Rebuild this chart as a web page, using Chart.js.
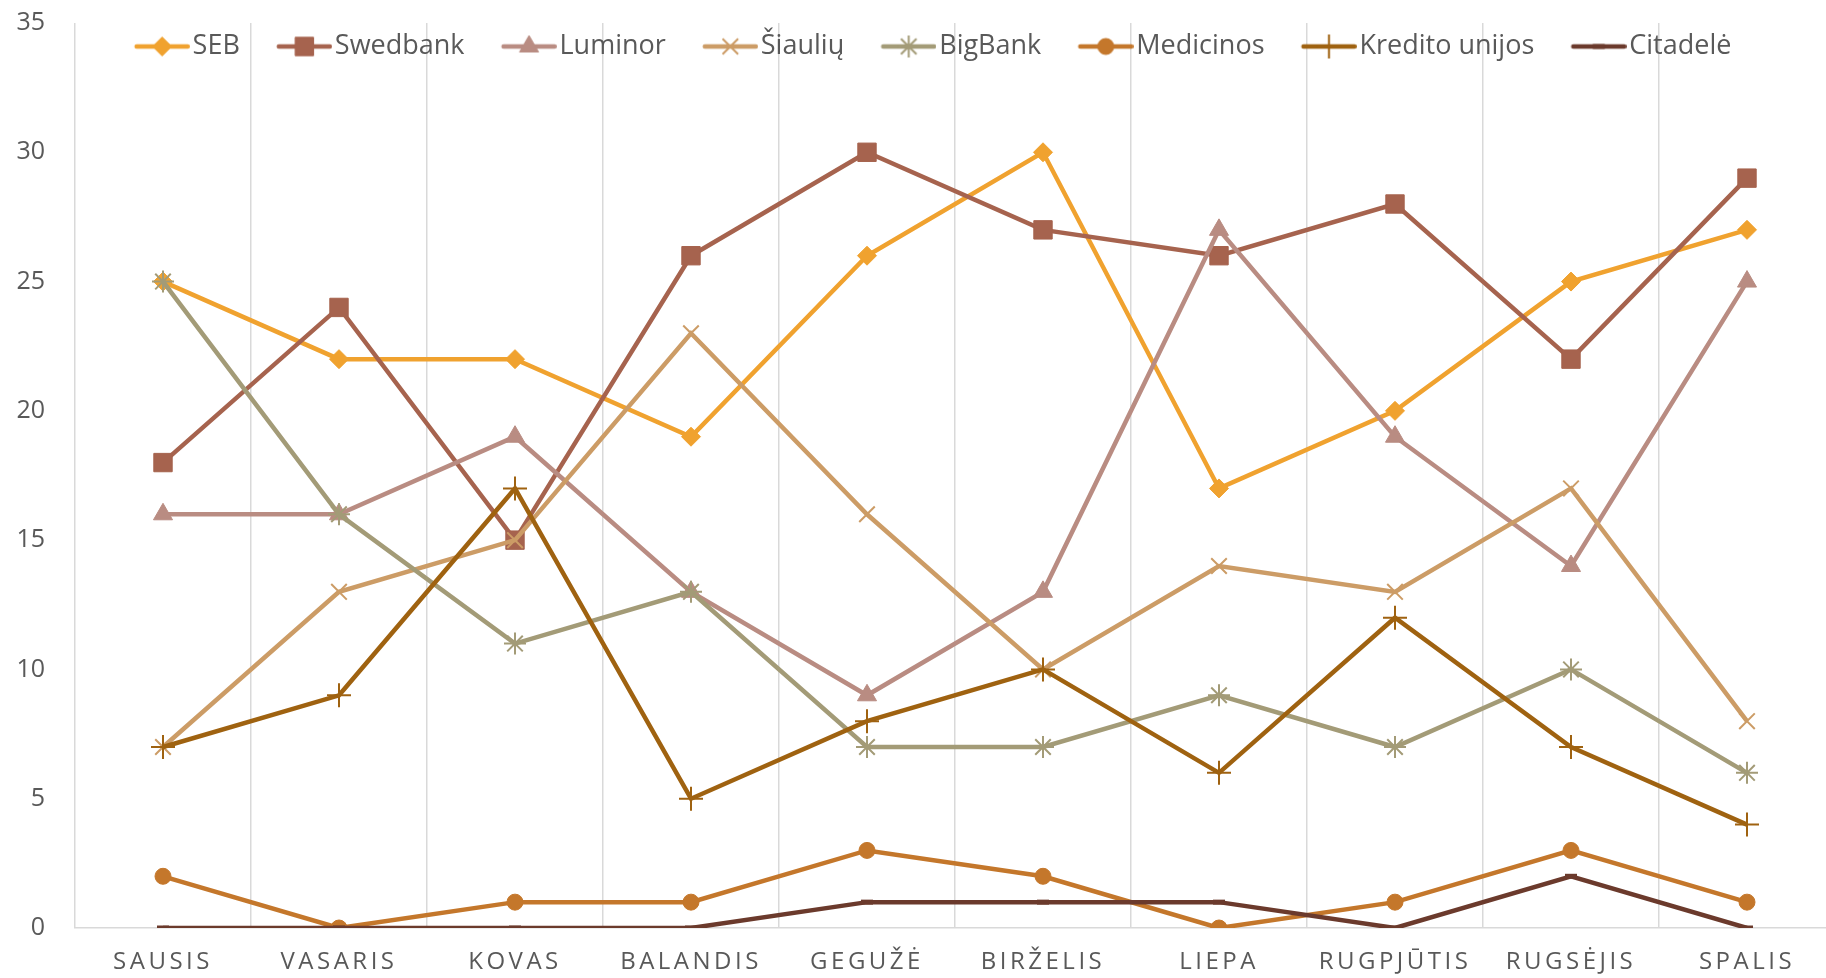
<!DOCTYPE html>
<html>
<head>
<meta charset="utf-8">
<script src="https://cdn.jsdelivr.net/npm/chart.js@4.4.1/dist/chart.umd.min.js"></script>
<style>
    html, body { margin: 0; padding: 0; background: #fff; overflow: hidden; }
    #wrap { width: 1840px; height: 978px; }
</style>
</head>
<body>
<div id="wrap"><canvas id="chart" width="1840" height="978"></canvas></div>
<script>
// Data
const months = ['SAUSIS', 'VASARIS', 'KOVAS', 'BALANDIS', 'GEGUŽĖ', 'BIRŽELIS', 'LIEPA', 'RUGPJŪTIS', 'RUGSĖJIS', 'SPALIS'];
const seb       = [25, 22, 22, 19, 26, 30, 17, 20, 25, 27];
const swedbank  = [18, 24, 15, 26, 30, 27, 26, 28, 22, 29];
const luminor   = [16, 16, 19, 13, 9, 13, 27, 19, 14, 25];
const siauliu   = [7, 13, 15, 23, 16, 10, 14, 13, 17, 8];
const bigbank   = [25, 16, 11, 13, 7, 7, 9, 7, 10, 6];
const medicinos = [2, 0, 1, 1, 3, 2, 0, 1, 3, 1];
const kredito   = [7, 9, 17, 5, 8, 10, 6, 12, 7, 4];
const citadele  = [0, 0, 0, 0, 1, 1, 1, 0, 2, 0];

const seriesNames = ['SEB', 'Swedbank', 'Luminor', 'Šiaulių', 'BigBank', 'Medicinos', 'Kredito unijos', 'Citadelė'];
const seriesData = [seb, swedbank, luminor, siauliu, bigbank, medicinos, kredito, citadele];

const yMin = 0;
const yMax = 35;
const yStep = 5;

// Styles
const styles = [
    { color: '#F0A22F', point: 'rectRot',  radius: 9.5, border: 1 },
    { color: '#A6634E', point: 'rect',     radius: 13,  border: 1 },
    { color: '#B98C82', point: 'triangle', radius: 11,  border: 1 },
    { color: '#CC9C66', point: 'crossRot', radius: 11,  border: 2 },
    { color: '#A39B77', point: 'star',     radius: 11,  border: 2 },
    { color: '#C4772B', point: 'circle',   radius: 8,   border: 1 },
    { color: '#9F6210', point: 'cross',    radius: 12,  border: 2 },
    { color: '#6B3A2C', point: 'line',     radius: 6,   border: 5 }
];

const textColor = '#595959';
const gridColor = '#D9D9D9';

// Legend icon: line with marker in the middle
function makeIcon(st) {
    const c = document.createElement('canvas');
    c.width = 66;
    c.height = 30;
    const g = c.getContext('2d');
    g.strokeStyle = st.color;
    g.fillStyle = st.color;
    g.lineWidth = 4.5;
    g.lineCap = 'round';
    g.beginPath();
    g.moveTo(12.75, 15);
    g.lineTo(63.75, 15);
    g.stroke();
    g.lineWidth = st.border;
    g.lineCap = 'butt';
    Chart.helpers.drawPoint(g, { pointStyle: st.point, radius: st.radius, rotation: 0, borderWidth: st.border }, 38.25, 15);
    return c;
}
const legendIcons = styles.map(makeIcon);

// Legend drawn over the plot area (as in the original)
const legendOverlay = {
    id: 'legendOverlay',
    beforeLayout(chart) {
        const lg = chart.legend;
        if (!lg || lg._overlay) return;
        const fit = lg.fit;
        lg.fit = function () {
            fit.call(this);
            this._fullHeight = this.height;
            this.height = 23;
        };
        lg._overlay = true;
    },
    afterLayout(chart) {
        const lg = chart.legend;
        if (lg && lg._fullHeight) {
            lg.left = 31;
            lg.top = -4;
            lg.height = lg._fullHeight;
            lg.bottom = lg.top + lg._fullHeight;
        }
        // spaced-out month labels
        const xs = chart.scales.x;
        if (xs && !xs._spaced) {
            const draw = xs.drawLabels;
            xs.drawLabels = function (area) {
                this.ctx.save();
                this.ctx.letterSpacing = '3.5px';
                draw.call(this, area);
                this.ctx.restore();
            };
            xs._spaced = true;
        }
    }
};

const datasets = seriesData.map((data, i) => ({
    label: seriesNames[i],
    data: data,
    borderColor: styles[i].color,
    backgroundColor: styles[i].color,
    borderWidth: 4.5,
    tension: 0,
    pointStyle: styles[i].point,
    pointRadius: styles[i].radius,
    pointHoverRadius: styles[i].radius,
    pointBackgroundColor: styles[i].color,
    pointBorderColor: styles[i].color,
    pointBorderWidth: styles[i].border,
    order: seriesData.length - i
}));

const ctx = document.getElementById('chart').getContext('2d');
new Chart(ctx, {
    type: 'line',
    data: { labels: months, datasets: datasets },
    plugins: [legendOverlay],
    options: {
        responsive: false,
        animation: false,
        devicePixelRatio: 1,
        layout: { autoPadding: false, padding: { left: 0, right: 5, top: 0, bottom: 0 } },
        plugins: {
            legend: {
                position: 'top',
                labels: {
                    usePointStyle: true,
                    pointStyleWidth: 44.5,
                    padding: 37,
                    color: textColor,
                    font: { family: 'Open Sans', size: 27 },
                    sort: (a, b) => a.datasetIndex - b.datasetIndex,
                    generateLabels: function (chart) {
                        const items = Chart.defaults.plugins.legend.labels.generateLabels(chart);
                        return items.map(item => Object.assign(item, { pointStyle: legendIcons[item.datasetIndex] }));
                    }
                }
            },
            tooltip: { enabled: false }
        },
        scales: {
            x: {
                offset: true,
                grid: { offset: true, color: gridColor, lineWidth: 1.5, drawTicks: false },
                border: { color: gridColor, width: 1.5 },
                ticks: {
                    color: textColor,
                    font: { family: 'Open Sans', size: 24 },
                    padding: 20,
                    maxRotation: 0,
                    autoSkip: false
                },
                afterFit: function (scale) {
                    scale.height = 50;
                    scale.paddingLeft = 0;
                    scale.paddingRight = 0;
                }
            },
            y: {
                min: yMin,
                max: yMax,
                grid: { display: false, drawTicks: false },
                border: { display: false },
                ticks: {
                    stepSize: yStep,
                    color: textColor,
                    font: { family: 'Open Sans', size: 25 },
                    padding: 30
                },
                afterFit: function (scale) {
                    scale.width = 75;
                    scale.paddingTop = 0;
                    scale.paddingBottom = 0;
                }
            }
        }
    }
});
</script>
</body>
</html>
